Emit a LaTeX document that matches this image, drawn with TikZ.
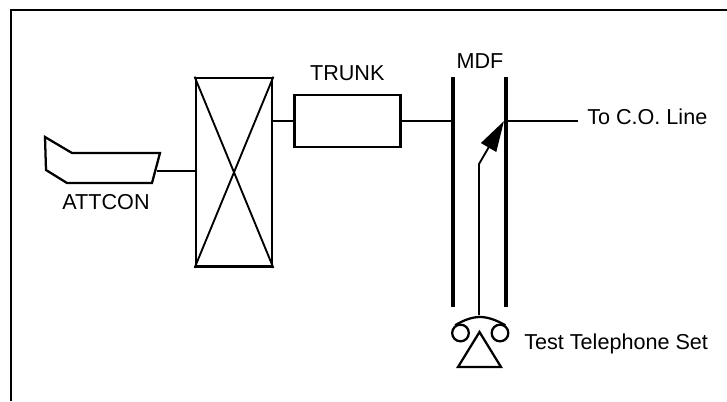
\documentclass[tikz,border=0pt]{standalone}
\usepackage{fontspec}
\setmainfont{Liberation Sans}
\usetikzlibrary{arrows.meta,positioning}

\begin{document}
\begin{tikzpicture}[
    x=0.75pt, y=-0.75pt,
    block/.style={rectangle, draw, line width=1.9pt, inner sep=0pt},
    txt/.style={inner sep=0pt, font=\fontsize{16.2pt}{19pt}\selectfont},
    wire/.style={line width=1.4pt},
    mdfbar/.style={line width=2.3pt},
    outline/.style={line width=1.7pt, line join=miter},
    earpiece/.style={circle, draw, line width=1.7pt, minimum size=12.5pt, inner sep=0pt},
]
    \useasboundingbox (0,0) rectangle (727,401);
    \draw[line width=1.9pt] (11,401) -- (11,10) -- (727,10);

    % attendant console
    \coordinate (con1) at (45,137);
    \coordinate (con2) at (72,153);
    \coordinate (con3) at (160,153);
    \coordinate (con4) at (152,183);
    \coordinate (con5) at (67,183);
    \coordinate (con6) at (46,170);
    \coordinate (conout) at (156.5,171);
    \draw[outline] (con1) -- (con2) -- (con3) -- (con4) -- (con5) -- (con6) -- cycle;
    \node[txt] (attcon) at (106,202) {ATTCON};

    % switch and trunk
    \node[block, minimum width=57.2pt, minimum height=141.5pt] (sw) at (234,172.3) {};
    \draw[line width=1.4pt] (sw.north west) -- (sw.south east);
    \draw[line width=1.4pt] (sw.north east) -- (sw.south west);
    \node[block, minimum width=79.5pt, minimum height=39pt] (trunk) at (347.3,121) {};
    \node[txt, above=9.25pt of trunk] (trunklbl) {TRUNK};

    % MDF
    \coordinate (mdfla) at (453,77);
    \coordinate (mdflb) at (453,307);
    \coordinate (mdfra) at (506,77);
    \coordinate (mdfrb) at (506,307);
    \coordinate (mdfr) at (506,121);
    \coordinate (coline) at (578,121);
    \coordinate (bend) at (479,164);
    \coordinate (tip) at (504,121);
    \coordinate (test) at (479,315);
    \draw[mdfbar] (mdfla) -- (mdflb);
    \draw[mdfbar] (mdfra) -- (mdfrb);
    \node[txt] (mdflbl) at (480,61.5) {MDF};
    \node[txt, anchor=west] (colbl) at (587,117) {To C.O. Line};

    \draw[wire] (conout) -- (conout -| sw.west);
    \draw[wire] (sw.east |- trunk.west) -- (trunk.west);
    \draw[wire] (trunk.east) -- (trunk.east -| mdfla);
    \draw[wire] (mdfr) -- (coline);
    \draw[wire, -{Triangle[length=23pt,width=13pt]}] (test) -- (bend) -- (tip);

    % test telephone set
    \node[earpiece] (recv) at (460.5,333) {};
    \node[earpiece] (mouth) at (500,333) {};
    \coordinate (apex) at (479.5,332);
    \coordinate (basel) at (458,367);
    \coordinate (baser) at (501,367);
    \draw[outline] (apex) -- (baser) -- (basel) -- cycle;
    \draw[outline] (recv.125) .. controls (464,320) and (472,317) .. (480,317) .. controls (488,317) and (496,320) .. (mouth.55);
    \node[txt, anchor=base west] (telbl) at (524,349) {Test Telephone Set};
\end{tikzpicture}
\end{document}
